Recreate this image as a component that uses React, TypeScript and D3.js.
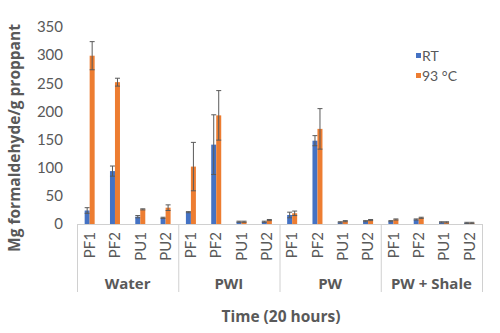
import React from "react";
import * as d3 from "d3";

const groups = ["Water", "PWI", "PW", "PW + Shale"];
const categories = ["PF1", "PF2", "PU1", "PU2"];
const seriesNames = ["RT", "93 °C"];
const rtValues = [24, 94, 13, 11, 21, 141, 4, 4, 16, 148, 3, 5, 5, 8, 3, 2];
const rtErrors = [5, 9, 2, 1, 1, 53, 1, 1, 5, 9, 1, 1, 1, 1, 1, 1];
const hotValues = [299, 252, 26, 29, 102, 193, 4, 7, 19, 169, 5, 7, 8, 11, 3, 2];
const hotErrors = [25, 7, 1, 5, 43, 44, 1, 1, 4, 36, 1, 1, 1, 1, 1, 1];
const yTicks = [0, 50, 100, 150, 200, 250, 300, 350];

const colors = ["#4472C4", "#ED7D31"];
const textColor = "#595959";
const lineColor = "#D0D0D0";
const font = "Lato, 'Open Sans', sans-serif";
const boldFont = "'Open Sans', Lato, sans-serif";

export default function App() {
  const W = 500, H = 333;
  const left = 77, right = 482, top = 27, bottom = 224, lowerEdge = 292;
  const x0 = d3.scaleBand().domain(groups).range([left, right]).padding(0);
  const x1 = d3.scaleBand().domain(categories).range([0, x0.bandwidth()]).padding(0);
  const y = d3.scaleLinear().domain([0, 350]).range([bottom, top]);
  const barW = 5;

  const rows = groups.flatMap((g, gi) =>
    categories.map((c, ci) => ({ g, c, i: gi * categories.length + ci }))
  );
  const series = [
    { vals: rtValues, errs: rtErrors },
    { vals: hotValues, errs: hotErrors },
  ];

  return (
    <svg width={W} height={H} style={{ position: "absolute", left: 0, top: 0, background: "#fff" }}>
      {/* y ticks */}
      {yTicks.map((t) => (
        <text key={t} x={63} y={y(t)} dy="0.35em" textAnchor="end" fontSize={15} fontFamily={font} fill={textColor}>
          {t}
        </text>
      ))}
      {/* bars */}
      {rows.map((r) => {
        const cx = (x0(r.g) as number) + (x1(r.c) as number) + x1.bandwidth() / 2;
        return (
          <g key={r.i}>
            {series.map((s, si) => {
              const v = s.vals[r.i];
              const e = s.errs[r.i];
              const bx = cx - barW + si * barW;
              const mx = bx + barW / 2;
              return (
                <g key={si}>
                  <rect x={bx} y={y(v)} width={barW} height={y(0) - y(v)} fill={colors[si]} />
                  <line x1={mx} x2={mx} y1={y(v + e)} y2={y(Math.max(0, v - e))} stroke="#5a5a5a" strokeWidth={1} />
                  <line x1={mx - 2.5} x2={mx + 2.5} y1={y(v + e)} y2={y(v + e)} stroke="#5a5a5a" strokeWidth={1} />
                  <line x1={mx - 2.5} x2={mx + 2.5} y1={y(Math.max(0, v - e))} y2={y(Math.max(0, v - e))} stroke="#5a5a5a" strokeWidth={1} />
                </g>
              );
            })}
          </g>
        );
      })}
      {/* axis lines */}
      <line x1={left} x2={right} y1={bottom + 0.5} y2={bottom + 0.5} stroke={lineColor} />
      {[...groups.map((g) => x0(g) as number), right].map((xx, i) => (
        <line key={i} x1={xx + 0.5} x2={xx + 0.5} y1={bottom} y2={lowerEdge} stroke={lineColor} />
      ))}
      {/* category labels */}
      {rows.map((r) => {
        const cx = (x0(r.g) as number) + (x1(r.c) as number) + x1.bandwidth() / 2;
        return (
          <text key={"c" + r.i} transform={`translate(${cx},${232}) rotate(-90)`} dy="0.35em" textAnchor="end" fontSize={15} fontFamily={font} fill={textColor}>
            {r.c}
          </text>
        );
      })}
      {/* group labels */}
      {groups.map((g) => (
        <text key={g} x={(x0(g) as number) + x0.bandwidth() / 2} y={289} textAnchor="middle" fontSize={15} fontWeight="bold" fontFamily={boldFont} fill={textColor}>
          {g}
        </text>
      ))}
      {/* axis titles */}
      <text x={281} y={322} textAnchor="middle" fontSize={15.5} fontWeight="bold" fontFamily={boldFont} fill={textColor}>
        Time (20 hours)
      </text>
      <text transform={`translate(15,138) rotate(-90)`} dy="0.35em" textAnchor="middle" fontSize={15.5} fontWeight="bold" fontFamily={boldFont} fill={textColor}>
        Mg formaldehyde/g proppant
      </text>
      {/* legend */}
      {seriesNames.map((n, i) => (
        <g key={n} transform={`translate(416,${56 + i * 20})`}>
          <rect x={0} y={-3} width={5} height={5} fill={colors[i]} />
          <text x={6} y={0} dy="0.35em" fontSize={14} fontFamily={font} fill={textColor}>
            {n}
          </text>
        </g>
      ))}
    </svg>
  );
}
